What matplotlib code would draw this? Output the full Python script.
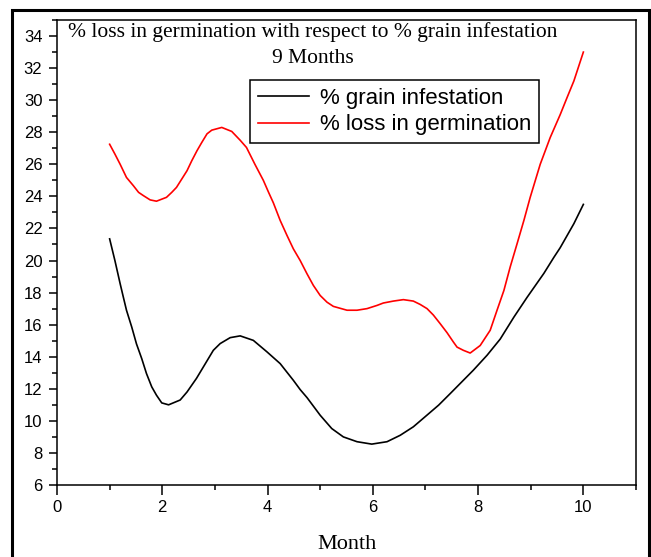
import matplotlib
matplotlib.use("Agg")
import matplotlib.pyplot as plt
from matplotlib.patches import Rectangle
from matplotlib.ticker import MultipleLocator

# values (month, percent)
infest_month = [1.0, 1.1, 1.2, 1.26, 1.32, 1.42, 1.51, 1.61, 1.7, 1.8, 1.89, 1.99,
                2.12, 2.34, 2.47, 2.65, 2.78, 2.97, 3.1, 3.29, 3.48, 3.73, 3.99, 4.24,
                4.49, 4.62, 4.75, 5.0, 5.22, 5.44, 5.7, 5.98, 6.27, 6.52, 6.77, 7.03,
                7.25, 7.47, 7.69, 7.91, 8.17, 8.42, 8.68, 8.93, 9.25, 9.44, 9.56,
                9.82, 10.0]
infest_pct = [21.35, 20.0, 18.55, 17.72, 16.9, 15.85, 14.8, 13.88, 12.95, 12.12, 11.6, 11.12,
              11.0, 11.3, 11.8, 12.65, 13.36, 14.4, 14.82, 15.19, 15.3, 15.02, 14.3, 13.57,
              12.53, 11.95, 11.45, 10.35, 9.52, 9.0, 8.7, 8.55, 8.7, 9.1, 9.63, 10.36,
              10.98, 11.7, 12.43, 13.16, 14.09, 15.1, 16.47, 17.7, 19.2, 20.2, 20.8,
              22.3, 23.5]

loss_month = [1.0, 1.1, 1.2, 1.32, 1.45, 1.55, 1.64, 1.77, 1.89, 2.08, 2.18, 2.27,
              2.37, 2.47, 2.56, 2.66, 2.75, 2.85, 2.94, 3.13, 3.32, 3.48, 3.6, 3.76,
              3.92, 4.02, 4.11, 4.24, 4.37, 4.49, 4.62, 4.75, 4.87, 5.0, 5.13, 5.25,
              5.51, 5.7, 5.89, 6.08, 6.2, 6.39, 6.58, 6.77, 6.9, 7.03, 7.15, 7.28,
              7.41, 7.53, 7.6, 7.72, 7.85, 8.04, 8.1, 8.23, 8.36, 8.49, 8.61, 8.74,
              8.87, 8.99, 9.18, 9.37, 9.56, 9.69, 9.82, 10.0]
loss_pct = [27.25, 26.64, 26.0, 25.18, 24.67, 24.25, 24.05, 23.78, 23.7, 23.94, 24.25, 24.56,
            25.08, 25.6, 26.22, 26.85, 27.36, 27.9, 28.13, 28.3, 28.05, 27.5, 27.05, 26.0,
            25.0, 24.25, 23.6, 22.5, 21.56, 20.73, 20.0, 19.17, 18.45, 17.82, 17.4, 17.14,
            16.9, 16.9, 17.0, 17.2, 17.35, 17.47, 17.56, 17.47, 17.26, 17.0, 16.6, 16.06,
            15.5, 14.92, 14.6, 14.4, 14.23, 14.7, 15.0, 15.65, 16.9, 18.13, 19.6, 21.04,
            22.5, 23.94, 26.0, 27.67, 29.1, 30.16, 31.2, 33.0]

fig = plt.figure(figsize=(6.51, 5.57), dpi=100)
ax = fig.add_axes([57/651, 1 - 485/557, 579/651, 465/557])

ax.plot(infest_month, infest_pct, color="black", lw=1.2, label="% grain infestation")
ax.plot(loss_month, loss_pct, color="red", lw=1.2, label="% loss in germination")

ax.set_xlim(0, 11)
ax.set_ylim(6, 35)
ax.xaxis.set_major_locator(MultipleLocator(2))
ax.xaxis.set_minor_locator(MultipleLocator(1))
ax.yaxis.set_major_locator(MultipleLocator(2))
ax.yaxis.set_minor_locator(MultipleLocator(1))
ax.tick_params(which="both", direction="out", top=False, right=False, width=1.1,
               labelsize=12)
ax.tick_params(axis="x", which="major", length=7, pad=4)
ax.tick_params(axis="y", which="major", length=6, pad=4.5)
ax.tick_params(which="minor", length=3.5)
for lab in ax.get_xticklabels() + ax.get_yticklabels():
    lab.set_family("Liberation Sans")
for sp in ax.spines.values():
    sp.set_linewidth(1.1)

ax.set_xlabel("Month", family="Liberation Serif", fontsize=16, labelpad=14)

ax.text(0.442, 0.996, "% loss in germination with respect to % grain infestation\n9 Months",
        transform=ax.transAxes, ha="center", va="top", family="Liberation Serif",
        fontsize=15.5, linespacing=1.55)

leg = ax.legend(loc="upper left", bbox_to_anchor=(0.333, 0.871), fancybox=False,
                edgecolor="black", framealpha=1, handlelength=2.3, borderpad=0.35,
                labelspacing=0.25, handletextpad=0.5, borderaxespad=0,
                prop={"family": "Liberation Sans", "size": 16})
leg.get_frame().set_linewidth(1.1)

# outer frame around the whole picture
fig.patches.append(Rectangle((12/651, -0.05), 637/651, 1.05 - 10/557, transform=fig.transFigure,
                             fill=False, edgecolor="black", lw=2.2))

fig.savefig("out.png", dpi=100)
